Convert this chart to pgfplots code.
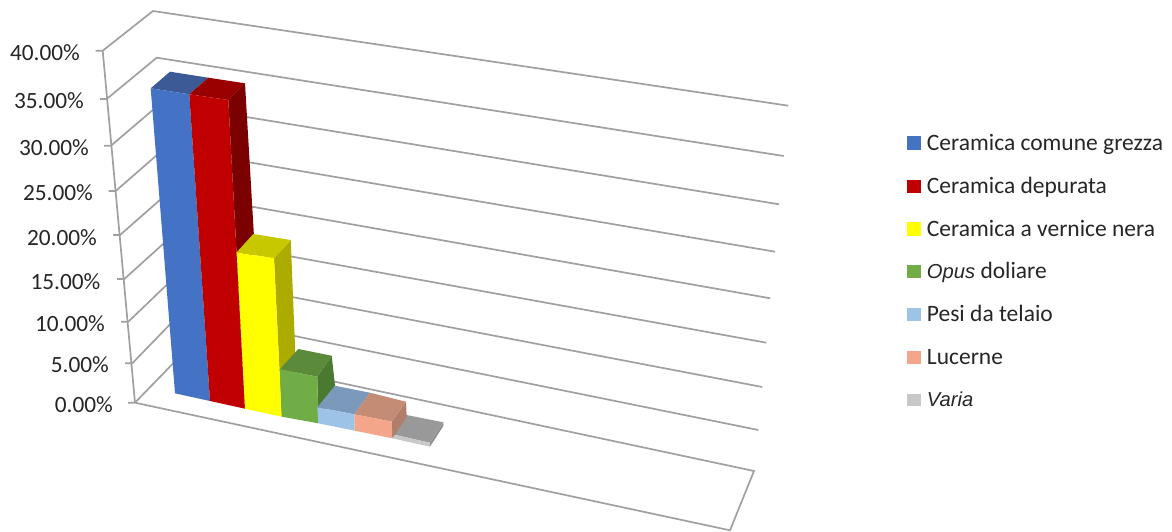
\documentclass[border=0pt]{standalone}
\usepackage{pgfplots}
\pgfplotsset{compat=1.18}
\usepackage{fontspec}
\setmainfont{Carlito}
\newfontfamily\arialf{Liberation Sans}
\definecolor{gridc}{HTML}{A0A0A0}
\definecolor{txt}{HTML}{262626}
\definecolor{bluef}{HTML}{4472C4}\definecolor{bluet}{HTML}{3B5A96}
\definecolor{redf}{HTML}{C00000}\definecolor{redt}{HTML}{990000}\definecolor{reds}{HTML}{7B0000}
\definecolor{yelf}{HTML}{FFFF00}\definecolor{yelt}{HTML}{C8C800}\definecolor{yels}{HTML}{ABAB00}
\definecolor{grnf}{HTML}{70AD47}\definecolor{grnt}{HTML}{5A8A3A}\definecolor{grns}{HTML}{4A7A30}
\definecolor{lbf}{HTML}{9DC3E6}\definecolor{lbt}{HTML}{7B9ABB}
\definecolor{salf}{HTML}{F4A68A}\definecolor{salt}{HTML}{C48C75}\definecolor{sals}{HTML}{B07E6A}
\definecolor{gryf}{HTML}{C8C8C8}\definecolor{gryt}{HTML}{999999}\definecolor{grys}{HTML}{8F8F8F}
\newcommand\face[2]{\addplot[fill=#1,draw=none,forget plot] coordinates {#2} --cycle;}
\newcommand\gl[1]{\addplot[gridc,line width=1.7pt,forget plot] coordinates {#1};}
\newcommand\ticklab[3]{\node[anchor=east,inner sep=0pt,font=\fontsize{23.3}{26}\selectfont,text=txt] at (axis cs:#1,#2) {#3};}
\newcommand\leglab[2]{\node[anchor=base west,inner sep=0pt,font=\fontsize{23.5}{26}\selectfont,text=txt] at (axis cs:926.7,#1) {#2};}
\begin{document}
\begin{tikzpicture}
\begin{axis}[
  scale only axis,width=1172pt,height=532pt,
  xmin=0,xmax=1172,ymin=0,ymax=532,y dir=reverse,
  axis lines=none,clip=false,
]
% picture extent
\path (axis cs:0,0) rectangle (axis cs:1172,532);
\addplot[draw=none,forget plot] coordinates {(0,0)(1172,532)};
% walls and gridlines
\gl{(95.7,50.7)(102.7,50.7)(153,11)(788.3,105.7)}
\gl{(100,99)(106.7,99)(156.7,57.7)(783.7,156)}
\gl{(104,145.7)(111,145.7)(161,103)(779,204.3)}
\gl{(108.5,191)(115.7,191)(165,148)(775,251.7)}
\gl{(113,235)(120,235)(169,192)(770.3,298.3)}
\gl{(117,279)(124.3,279)(173,235)(766.3,342.7)}
\gl{(121,321.7)(128.3,321.7)(177,275)(762.3,387)}
\gl{(125,363.3)(132.3,363.3)(181,313)(758.3,430)}
\gl{(128,402.7)(135,402.7)(186,350)(754,471)(730,530.3)(135,402.7)}
\gl{(102.7,50.7)(135,402.7)}
% blue
\face{bluet}{(150.7,88.3)(170,71.7)(208.3,77.7)(189.3,94.3)}
\face{bluef}{(150.7,88.3)(189.3,94.3)(210,401)(175,393.3)}
% red
\face{reds}{(228.3,100)(245,83.3)(263,390)(245,408.7)}
\face{redt}{(189.3,94.3)(208.3,77.7)(245,83.3)(228.3,100)}
\face{redf}{(189.3,94.3)(228.3,100)(245,408.7)(210,401)}
% yellow
\face{yels}{(274,258.3)(290.7,240)(297,395)(281.7,416.7)}
\face{yelt}{(236.7,252.3)(253.3,234)(290.7,240)(274,258.3)}
\face{yelf}{(236.7,252.3)(274,258.3)(281.7,416.7)(245,408.7)}
% green
\face{grns}{(317.3,376.7)(331.7,355.7)(335,385.7)(318.3,423.3)}
\face{grnt}{(280,369.3)(298.3,349)(331.7,355.7)(317.3,376.7)}
\face{grnf}{(280,369.3)(317.3,376.7)(318.3,423.3)(281.7,416.7)}
% light blue
\face{lbt}{(317.3,407.3)(335,385.7)(370,392.7)(354.3,414.3)}
\face{lbf}{(317.3,407.3)(354.3,414.3)(354.7,430.7)(318.3,423.3)}
% grey
\face{grys}{(430,442.7)(443.3,422.3)(443.3,426)(430,446.7)}
\face{gryt}{(392.3,434.3)(406.7,415)(443.3,422.3)(430,442.7)}
\face{gryf}{(392.3,434.3)(430,442.7)(430,446.7)(392.3,438.3)}
% salmon
\face{sals}{(391.7,421.7)(406,401.7)(406.7,417)(392.3,438.3)}
\face{salt}{(354.3,414.3)(370,392.7)(406,401.7)(391.7,421.7)}
\face{salf}{(354.3,414.3)(391.7,421.7)(392.3,438.3)(354.7,430.7)}
% legend swatches
\face{bluef}{(907.3,136)(921,136)(921,150)(907.3,150)}
\face{redf}{(907.3,180)(921,180)(921,193)(907.3,193)}
\face{yelf}{(907.3,222)(921,222)(921,236)(907.3,236)}
\face{grnf}{(907.3,265)(921,265)(921,278)(907.3,278)}
\face{lbf}{(907.3,308)(921,308)(921,321)(907.3,321)}
\face{salf}{(907.3,351)(921,351)(921,363.5)(907.3,363.5)}
\face{gryf}{(907.3,393.5)(921,393.5)(921,406)(907.3,406)}
% tick labels
\ticklab{80}{52.7}{40.00\%}
\ticklab{84}{100.7}{35.00\%}
\ticklab{89}{147.3}{30.00\%}
\ticklab{93}{192.7}{25.00\%}
\ticklab{97}{237.3}{20.00\%}
\ticklab{100.5}{281.7}{15.00\%}
\ticklab{105}{323.3}{10.00\%}
\ticklab{109}{365}{5.00\%}
\ticklab{113}{404.3}{0.00\%}
% legend text
\leglab{150}{Ceramica comune grezza}
\leglab{193}{Ceramica depurata}
\leglab{236}{Ceramica a vernice nera}
\leglab{278.5}{{\arialf\itshape\fontsize{20.2}{24}\selectfont Opus} doliare}
\leglab{321}{Pesi da telaio}
\leglab{364}{Lucerne}
\leglab{406.5}{{\arialf\itshape\fontsize{20.2}{24}\selectfont Varia}}
\end{axis}
\end{tikzpicture}
\end{document}
